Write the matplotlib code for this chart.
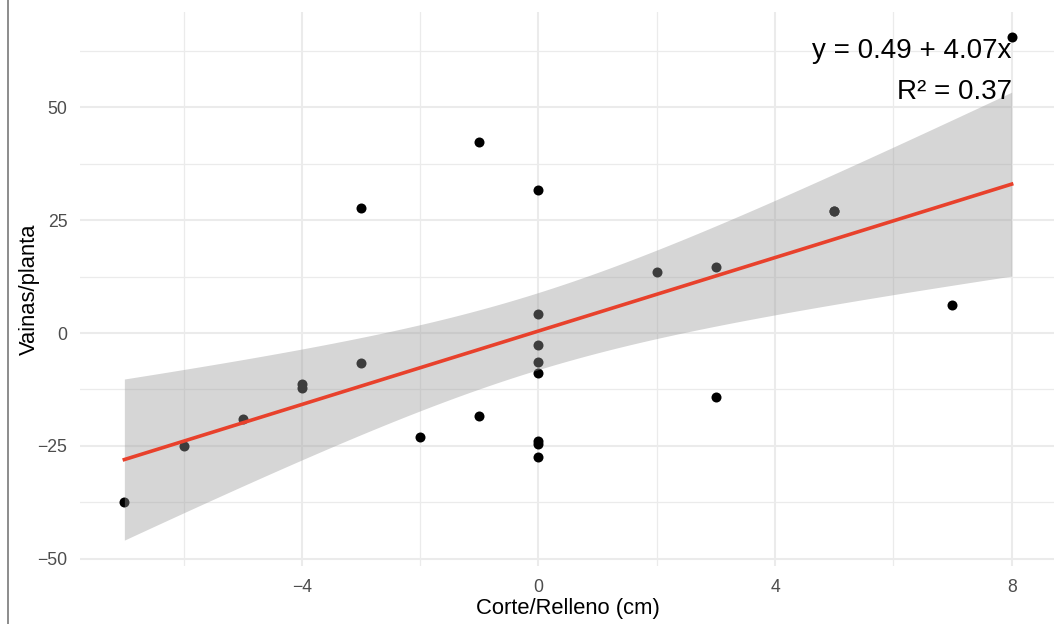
import numpy as np
import matplotlib
matplotlib.use("Agg")
import matplotlib.pyplot as plt
from matplotlib.lines import Line2D

# Data (the point at x=5 is a double point)
corte = [-7, -6, -5, -4, -4, -3, -3, -2, -1, -1,
         0, 0, 0, 0, 0, 0, 0, 0,
         2, 3, 3, 5, 5, 7, 8]
vainas = [-37.4, -25.1, -19.0, -11.2, -12.1, -6.7, 27.6, -23.0, -18.3, 42.2,
          31.6, 4.2, -2.6, -6.5, -8.8, -23.9, -24.6, -27.4,
          13.6, 14.7, -14.2, 27.0, 27.0, 6.2, 65.5]
eq_text = "y = 0.49 + 4.07x"
r2_text = "R² = 0.37"
x_ticks = [-4, 0, 4, 8]
y_ticks = [-50, -25, 0, 25, 50]
t_crit = 2.069  # t(0.975, df = 23)

plt.rcParams['font.family'] = ['Liberation Sans', 'DejaVu Sans']

x = np.array(corte, dtype=float)
y = np.array(vainas, dtype=float)
n = len(x)
b1, b0 = np.polyfit(x, y, 1)
resid = y - (b0 + b1 * x)
s = np.sqrt(np.sum(resid**2) / (n - 2))
xg = np.linspace(x.min(), x.max(), 200)
yg = b0 + b1 * xg
se = s * np.sqrt(1.0 / n + (xg - x.mean())**2 / np.sum((x - x.mean())**2))
lo = yg - t_crit * se
hi = yg + t_crit * se

W, H = 1054, 624
fig = plt.figure(figsize=(W / 100, H / 100), dpi=100)
ax = fig.add_axes([80 / W, 1 - 566 / H, 976 / W, 554 / H])

ax.set_xlim(-7.75, 8.75)
ax.set_ylim(-51.6, 71.1)

for sp in ax.spines.values():
    sp.set_visible(False)

ax.set_xticks(x_ticks)
ax.set_yticks(y_ticks)
ax.set_xticks([-6, -2, 2, 6], minor=True)
ax.set_yticks([-37.5, -12.5, 12.5, 37.5, 62.5], minor=True)
ax.set_xticklabels([f"\u2212{abs(v)}" if v < 0 else str(v) for v in x_ticks])
ax.set_yticklabels([f"\u2212{abs(v)}" if v < 0 else str(v) for v in y_ticks])
ax.grid(which='major', color='#EBEBEB', linewidth=1.5)
ax.grid(which='minor', color='#EBEBEB', linewidth=0.9)
ax.set_axisbelow(True)
ax.tick_params(which='both', length=0)
ax.tick_params(axis='both', labelsize=12.7, labelcolor='#4D4D4D')
ax.tick_params(axis='y', pad=9)
ax.tick_params(axis='x', pad=9)

ax.scatter(x, y, s=52, color='black', zorder=2, linewidths=0)
ax.fill_between(xg, lo, hi, color='#999999', alpha=0.4, linewidth=0, zorder=3)
ax.plot(xg, yg, color='#E8412C', linewidth=2.6, zorder=4)

ax.set_xlabel("Corte/Relleno (cm)", fontsize=15.8, color='black', labelpad=2)
ax.set_ylabel("Vainas/planta", fontsize=15.8, color='black', labelpad=-1.5)

ax.text(8, 61.0, eq_text, ha='right', va='baseline', fontsize=20, color='black', zorder=5)
ax.text(8, 51.9, r2_text, ha='right', va='baseline', fontsize=20, color='black', zorder=5)

fig.add_artist(Line2D([8 / W, 8 / W], [0, 1], transform=fig.transFigure,
                      color='#8C8C8C', linewidth=1.4))

fig.savefig("out.png", dpi=100)
